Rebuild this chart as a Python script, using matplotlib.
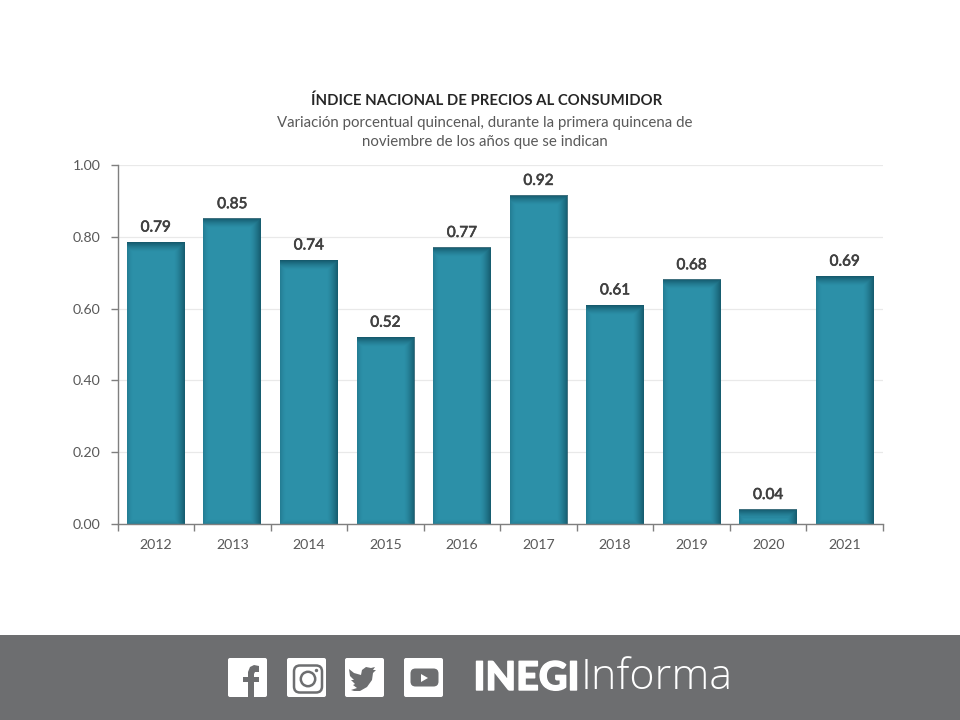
import numpy as np
import matplotlib
matplotlib.use("Agg")
import matplotlib.pyplot as plt
import matplotlib.patheffects as pe
from matplotlib.patches import FancyBboxPatch, Rectangle, Circle, Polygon

years = ["2012", "2013", "2014", "2015", "2016", "2017", "2018", "2019", "2020", "2021"]
values = [0.785, 0.85, 0.735, 0.52, 0.77, 0.915, 0.61, 0.68, 0.04, 0.69]
labels = ["0.79", "0.85", "0.74", "0.52", "0.77", "0.92", "0.61", "0.68", "0.04", "0.69"]
yticks = [0.0, 0.2, 0.4, 0.6, 0.8, 1.0]
title = "ÍNDICE NACIONAL DE PRECIOS AL CONSUMIDOR"
subtitle = "Variación porcentual quincenal, durante la primera quincena de\nnoviembre de los años que se indican"

plt.rcParams['font.family'] = ['Lato', 'DejaVu Sans']
W, H = 960, 720
fig = plt.figure(figsize=(W / 100, H / 100), dpi=100, facecolor="white")

ax = fig.add_axes([117.5 / W, 1 - 524 / H, (883 - 117.5) / W, (524 - 165) / H])
x = np.arange(len(years))
bw = 0.755
BASE, DARK, AXC, TXT = "#2C90A8", (0.06, 0.30, 0.37), "#7F7F7F", "#595959"
ax.set_xlim(-0.5, len(years) - 0.5)
ax.set_ylim(0, 1)
ax.bar(x, values, width=bw, color=BASE, zorder=2)

# inner shadow on each bar
px_w = bw * (883 - 117.5) / len(years)
for xi, v in zip(x, values):
    px_h = max(v * 359, 1)
    nx, ny = int(round(px_w)), max(int(round(px_h)), 2)
    X, Y = np.meshgrid(np.arange(nx) + 0.5, np.arange(ny) + 0.5)
    left = np.clip(1 - X / 6, 0, 1) ** 1.5 * 0.30
    right = np.clip(1 - (nx - X) / 11, 0, 1) ** 1.4 * 0.80
    top = np.clip(1 - Y / 10, 0, 1) ** 1.4 * 0.85
    bottom = np.clip(1 - (ny - Y) / 5, 0, 1) ** 1.5 * 0.25
    alpha = np.maximum.reduce([left, right, top, bottom])
    img = np.zeros((ny, nx, 4))
    img[..., :3] = DARK
    img[..., 3] = alpha
    ax.imshow(img, extent=(xi - bw / 2, xi + bw / 2, 0, v), aspect="auto",
              zorder=2.5, interpolation="nearest", origin="upper")
ax.set_xlim(-0.5, len(years) - 0.5)
ax.set_ylim(0, 1)

for xi, v, lb in zip(x, values, labels):
    ax.annotate(lb, (xi, v), xytext=(0, 5.5), textcoords="offset points", ha="center",
                va="bottom", fontsize=11, color="#404040", zorder=3,
                path_effects=[pe.withStroke(linewidth=0.45, foreground="#404040")])

ax.set_yticks(yticks, [f"{t:.2f}" for t in yticks])
ax.set_xticks(x, years)
ax.set_xticks(np.arange(-0.5, len(years)), minor=True)
ax.grid(axis="y", color="#E9E9E9", lw=0.9, zorder=0)
ax.set_axisbelow(True)
for s in ("top", "right"):
    ax.spines[s].set_visible(False)
for s in ("left", "bottom"):
    ax.spines[s].set_color(AXC)
    ax.spines[s].set_linewidth(1.0)
ax.tick_params(axis="y", length=5, color=AXC, labelcolor=TXT, labelsize=10.2, pad=7, width=1)
ax.tick_params(axis="x", which="major", length=0, labelcolor=TXT, labelsize=10.2, pad=11)
ax.tick_params(axis="x", which="minor", length=5, color=AXC, width=1, direction="out")

fig.text(486.5 / W, 1 - 101 / H, title, ha="center", va="center", fontsize=10.7,
         color="#262626", fontweight="bold")
fig.text(484.5 / W, 1 - 132.5 / H, subtitle, ha="center", va="center", fontsize=10.8,
         color=TXT, linespacing=1.42)

# footer band in pixel coordinates
ov = fig.add_axes([0, 0, 1, 1], zorder=5)
ov.set_xlim(0, W); ov.set_ylim(H, 0); ov.axis("off"); ov.patch.set_alpha(0)
GRAY = "#6D6E70"
ov.add_patch(Rectangle((0, 635), W, 85, color=GRAY, lw=0))

for x0 in (228, 287, 345, 404):
    ov.add_patch(FancyBboxPatch((x0 + 1.5, 659.5), 36, 36, boxstyle="round,pad=1.5,rounding_size=2",
                                fc="white", ec="none"))

# facebook f
ov.add_patch(Polygon([(259, 666), (259, 672), (255, 672), (254, 674), (254, 677), (259, 677),
                      (259, 682), (254, 682), (254, 698), (248, 698), (248, 682), (243, 682),
                      (243, 677), (248, 677), (248, 672), (250, 667), (254, 665)],
                     fc=GRAY, ec="none"))
# instagram
ov.add_patch(FancyBboxPatch((295, 666.5), 26, 25, boxstyle="round,pad=1,rounding_size=6",
                            fc="none", ec=GRAY, lw=1.8))
ov.add_patch(Circle((308, 679), 7.2, fc="none", ec=GRAY, lw=1.8))
ov.add_patch(Circle((316.5, 670.5), 1.7, fc=GRAY, ec="none"))
# twitter bird
bird = [(349, 669), (354, 673), (361, 675), (362, 670), (366, 667), (371, 668), (375, 667),
        (373, 670), (376, 670), (373, 673), (372, 680), (367, 687), (360, 691), (354, 691),
        (351, 690), (357, 688), (353, 685), (355, 684), (351, 680), (354, 680), (350, 676)]
ov.add_patch(Polygon(bird, fc=GRAY, ec="none"))
# youtube
ov.add_patch(FancyBboxPatch((411, 669), 27, 17, boxstyle="round,pad=0.5,rounding_size=5",
                            fc=GRAY, ec="none"))
ov.add_patch(Polygon([(421, 674), (421, 682), (428, 678)], fc="white", ec="none"))

ov.text(473.5, 678.5, "INEGI", ha="left", va="center", fontsize=28.5, color="white",
        family="Lato", fontweight="black",
        path_effects=[pe.withStroke(linewidth=1.0, foreground="white")])
ov.text(581, 678, "Informa", ha="left", va="center", fontsize=31, color="white",
        family="Open Sans", fontweight="light")

fig.savefig("out.png", dpi=100, facecolor="white")
